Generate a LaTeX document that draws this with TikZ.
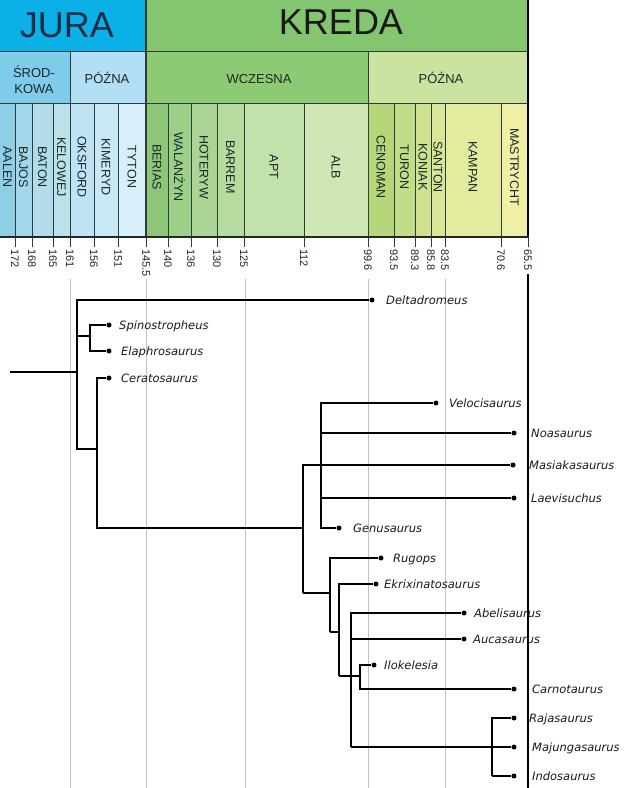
\documentclass[tikz,border=0pt]{standalone}
\usepackage{fontspec}
\setmainfont{Liberation Sans}
\newfontfamily\taxfont{DejaVu Sans}
\definecolor{cJura}{HTML}{0BB0E6}
\definecolor{cKreda}{HTML}{84C56F}
\definecolor{cSrod}{HTML}{7FCBEA}
\definecolor{cPJ}{HTML}{B3DFF5}
\definecolor{cWcz}{HTML}{8CCA74}
\definecolor{cPK}{HTML}{CCE2A0}
\definecolor{cAalen}{HTML}{8FCFE5}
\definecolor{cBajos}{HTML}{A2D7EA}
\definecolor{cBaton}{HTML}{B0DCEB}
\definecolor{cKel}{HTML}{BCE1E8}
\definecolor{cOks}{HTML}{BDE3F5}
\definecolor{cKim}{HTML}{C9E8F6}
\definecolor{cTyt}{HTML}{D7EFF9}
\definecolor{cBer}{HTML}{8CC779}
\definecolor{cWal}{HTML}{9CCF88}
\definecolor{cHot}{HTML}{AAD595}
\definecolor{cBar}{HTML}{B6DBA0}
\definecolor{cApt}{HTML}{C3E1AB}
\definecolor{cAlb}{HTML}{CFE6B5}
\definecolor{cCen}{HTML}{B5D77A}
\definecolor{cTur}{HTML}{C3DD86}
\definecolor{cKon}{HTML}{CEE28E}
\definecolor{cSan}{HTML}{D8E796}
\definecolor{cKam}{HTML}{E4EB9E}
\definecolor{cMas}{HTML}{EFEFA6}
\definecolor{sepc}{HTML}{2E3B3B}
\definecolor{gridc}{HTML}{C2C2C2}
\definecolor{txtc}{HTML}{1B2828}
\definecolor{jtxt}{HTML}{1C2E47}
\definecolor{taxc}{HTML}{1A1A1A}
\begin{document}
\begin{tikzpicture}[x=1pt,y=-1pt,
  hdr/.style={font=\fontsize{36}{36}\selectfont, inner sep=0pt, anchor=base},
  sub/.style={font=\fontsize{13}{16}\selectfont, align=center, inner sep=0pt, text=txtc},
  stage/.style={font=\fontsize{12.5}{12.5}\selectfont, rotate=-90, inner sep=0pt, text=txtc},
  age/.style={font=\fontsize{11}{11}\selectfont, rotate=-90, anchor=west, inner sep=0pt, text=txtc},
  sep/.style={draw=sepc, line width=0.9pt},
  gridl/.style={draw=gridc, line width=1pt},
  br/.style={draw=black, line width=1.2pt},
  tip/.style={circle, fill=black, inner sep=0pt, minimum size=5pt},
  tax/.style={font=\taxfont\itshape\fontsize{11.5}{13}\selectfont, anchor=base west, inner sep=0pt, text=taxc},
]
\useasboundingbox (0,0) rectangle (626,788);

% ---------- row 1 ----------
\fill[cJura] (0,0) rectangle (146,51);
\fill[cKreda] (146,0) rectangle (528,51);
\node[hdr, text=jtxt] (jura) at (67,37) {JURA};
\node[hdr, text=black!90] (kreda) at (341,34) {KREDA};

% ---------- row 2 ----------
\fill[cSrod] (0,51) rectangle (70,103);
\fill[cPJ] (70,51) rectangle (146,103);
\fill[cWcz] (146,51) rectangle (368,103);
\fill[cPK] (368,51) rectangle (528,103);
\node[sub] (srod) at (34,80) {ŚROD-\\KOWA};
\node[sub, anchor=base] (pj) at (107,83) {PÓŹNA};
\node[sub, anchor=base] (wcz) at (259,83) {WCZESNA};
\node[sub, anchor=base] (pk) at (441,83) {PÓŹNA};

% ---------- row 3: stages ----------
\foreach \l/\r/\c/\t [count=\i] in {
  0/15/cAalen/AALEN, 15/32/cBajos/BAJOS, 32/53/cBaton/BATON, 53/70/cKel/KELOWEJ,
  70/94/cOks/OKSFORD, 94/118/cKim/KIMERYD, 118/146/cTyt/TYTON,
  146/168/cBer/BERIAS, 168/191/cWal/WALANŻYN, 191/217/cHot/HOTERYW,
  217/244/cBar/BARREM, 244/304/cApt/APT, 304/368/cAlb/ALB,
  368/394/cCen/CENOMAN, 394/415/cTur/TURON, 415/431/cKon/KONIAK,
  431/445/cSan/SANTON, 445/501/cKam/KAMPAN, 501/528/cMas/MASTRYCHT}
{
  \fill[\c] (\l,103) rectangle (\r,237);
  \node[stage] (s\i) at ({(\l+\r)/2},167) {\t};
}

% separators
\foreach \x in {15,32,53,94,118,168,191,217,244,304,394,415,431,445,501}
  \draw[sep] (\x,103) -- (\x,237);
\draw[sep] (70,51) -- (70,237);
\draw[sep] (368,51) -- (368,237);
\draw[sep] (0,51) -- (528,51);
\draw[sep] (0,103) -- (528,103);
\draw[draw=sepc, line width=1.4pt] (146,0) -- (146,237);
\draw[draw=black, line width=1.4pt] (528,0) -- (528,237);
\draw[draw=black!85, line width=2pt] (0,237) -- (529,237);

% ticks and ages
\foreach \x/\a [count=\i] in {15/172, 32/168, 53/165, 70/161, 94/156, 118/151,
  146/145.5, 168/140, 191/136, 217/130, 244/125, 304/112, 368/99.6, 394/93.5,
  415/89.3, 431/85.8, 445/83.5, 501/70.6, 528/65.5}
{
  \draw[draw=sepc, line width=1pt] (\x,237) -- (\x,247);
  \node[age] (a\i) at (\x,249) {\a};
}

% grid lines
\foreach \x in {70,146,245,368,445}
  \draw[gridl] (\x,279) -- (\x,788);
\draw[draw=black, line width=1.2pt] (528,274) -- (528,788);

% ---------- tree: tips ----------
\node[tip] (delt) at (372,300) {};
\node[tip] (spin) at (109,325) {};
\node[tip] (elap) at (109,351) {};
\node[tip] (cera) at (109,378) {};
\node[tip] (velo) at (436,403) {};
\node[tip] (noas) at (514,433) {};
\node[tip] (masi) at (513,465) {};
\node[tip] (laev) at (514,498) {};
\node[tip] (genu) at (339,528) {};
\node[tip] (rugo) at (381,558) {};
\node[tip] (ekri) at (376,584) {};
\node[tip] (abel) at (464,613) {};
\node[tip] (auca) at (464,639) {};
\node[tip] (ilok) at (374,665) {};
\node[tip] (carn) at (514,689) {};
\node[tip] (raja) at (514,718) {};
\node[tip] (maju) at (514,747) {};
\node[tip] (indo) at (514,776) {};

% labels
\node[tax] (tdelt) at (386,304) {Deltadromeus};
\node[tax] (tspin) at (119,329) {Spinostropheus};
\node[tax] (telap) at (121,355) {Elaphrosaurus};
\node[tax] (tcera) at (121,382) {Ceratosaurus};
\node[tax] (tvelo) at (449,407) {Velocisaurus};
\node[tax] (tnoas) at (531,437) {Noasaurus};
\node[tax] (tmasi) at (529,469) {Masiakasaurus};
\node[tax] (tlaev) at (531,502) {Laevisuchus};
\node[tax] (tgenu) at (353,532) {Genusaurus};
\node[tax] (trugo) at (393,562) {Rugops};
\node[tax] (tekri) at (384,588) {Ekrixinatosaurus};
\node[tax] (tabel) at (474,617) {Abelisaurus};
\node[tax] (tauca) at (473,643) {Aucasaurus};
\node[tax] (tilok) at (384,669) {Ilokelesia};
\node[tax] (tcarn) at (532,693) {Carnotaurus};
\node[tax] (traja) at (529,722) {Rajasaurus};
\node[tax] (tmaju) at (532,751) {Majungasaurus};
\node[tax] (tindo) at (532,780) {Indosaurus};

% ---------- tree: internal points ----------
\coordinate (R0) at (10,372);
\coordinate (A1) at (77,449);
\coordinate (S1) at (90,336);
\coordinate (B1) at (97,528);
\coordinate (C1) at (303,528);
\coordinate (D1) at (303,593);
\coordinate (N1) at (321,528);
\coordinate (E2) at (330,632);
\coordinate (F2) at (339,676);
\coordinate (G1) at (360,676);
\coordinate (H1) at (351,747);
\coordinate (K1) at (492,776);

% ---------- tree: branches ----------
\draw[br] (R0) -- (R0 -| A1);
\draw[br] (delt) -| (A1) -| (B1) -- (C1);
\draw[br] (spin) -| (S1);
\draw[br] (elap) -| (S1);
\draw[br] (S1) -- (S1 -| A1);
\draw[br] (cera) -| (B1);
\draw[br] (masi) -| (D1);
\draw[br] (velo) -| (N1) -- (genu);
\draw[br] (noas) -- (noas -| N1);
\draw[br] (laev) -- (laev -| N1);
\draw[br] (rugo) -| (E2);
\draw[br] (D1) -- (D1 -| E2);
\draw[br] (E2) -| (F2);
\draw[br] (ekri) -| (F2);
\draw[br] (F2) -- (G1);
\draw[br] (ilok) -| (G1);
\draw[br] (carn) -| (G1);
\draw[br] (abel) -| (H1);
\draw[br] (auca) -- (auca -| H1);
\draw[br] (maju) -- (H1);
\draw[br] (raja) -| (K1);
\draw[br] (indo) -- (K1);
\end{tikzpicture}
\end{document}
